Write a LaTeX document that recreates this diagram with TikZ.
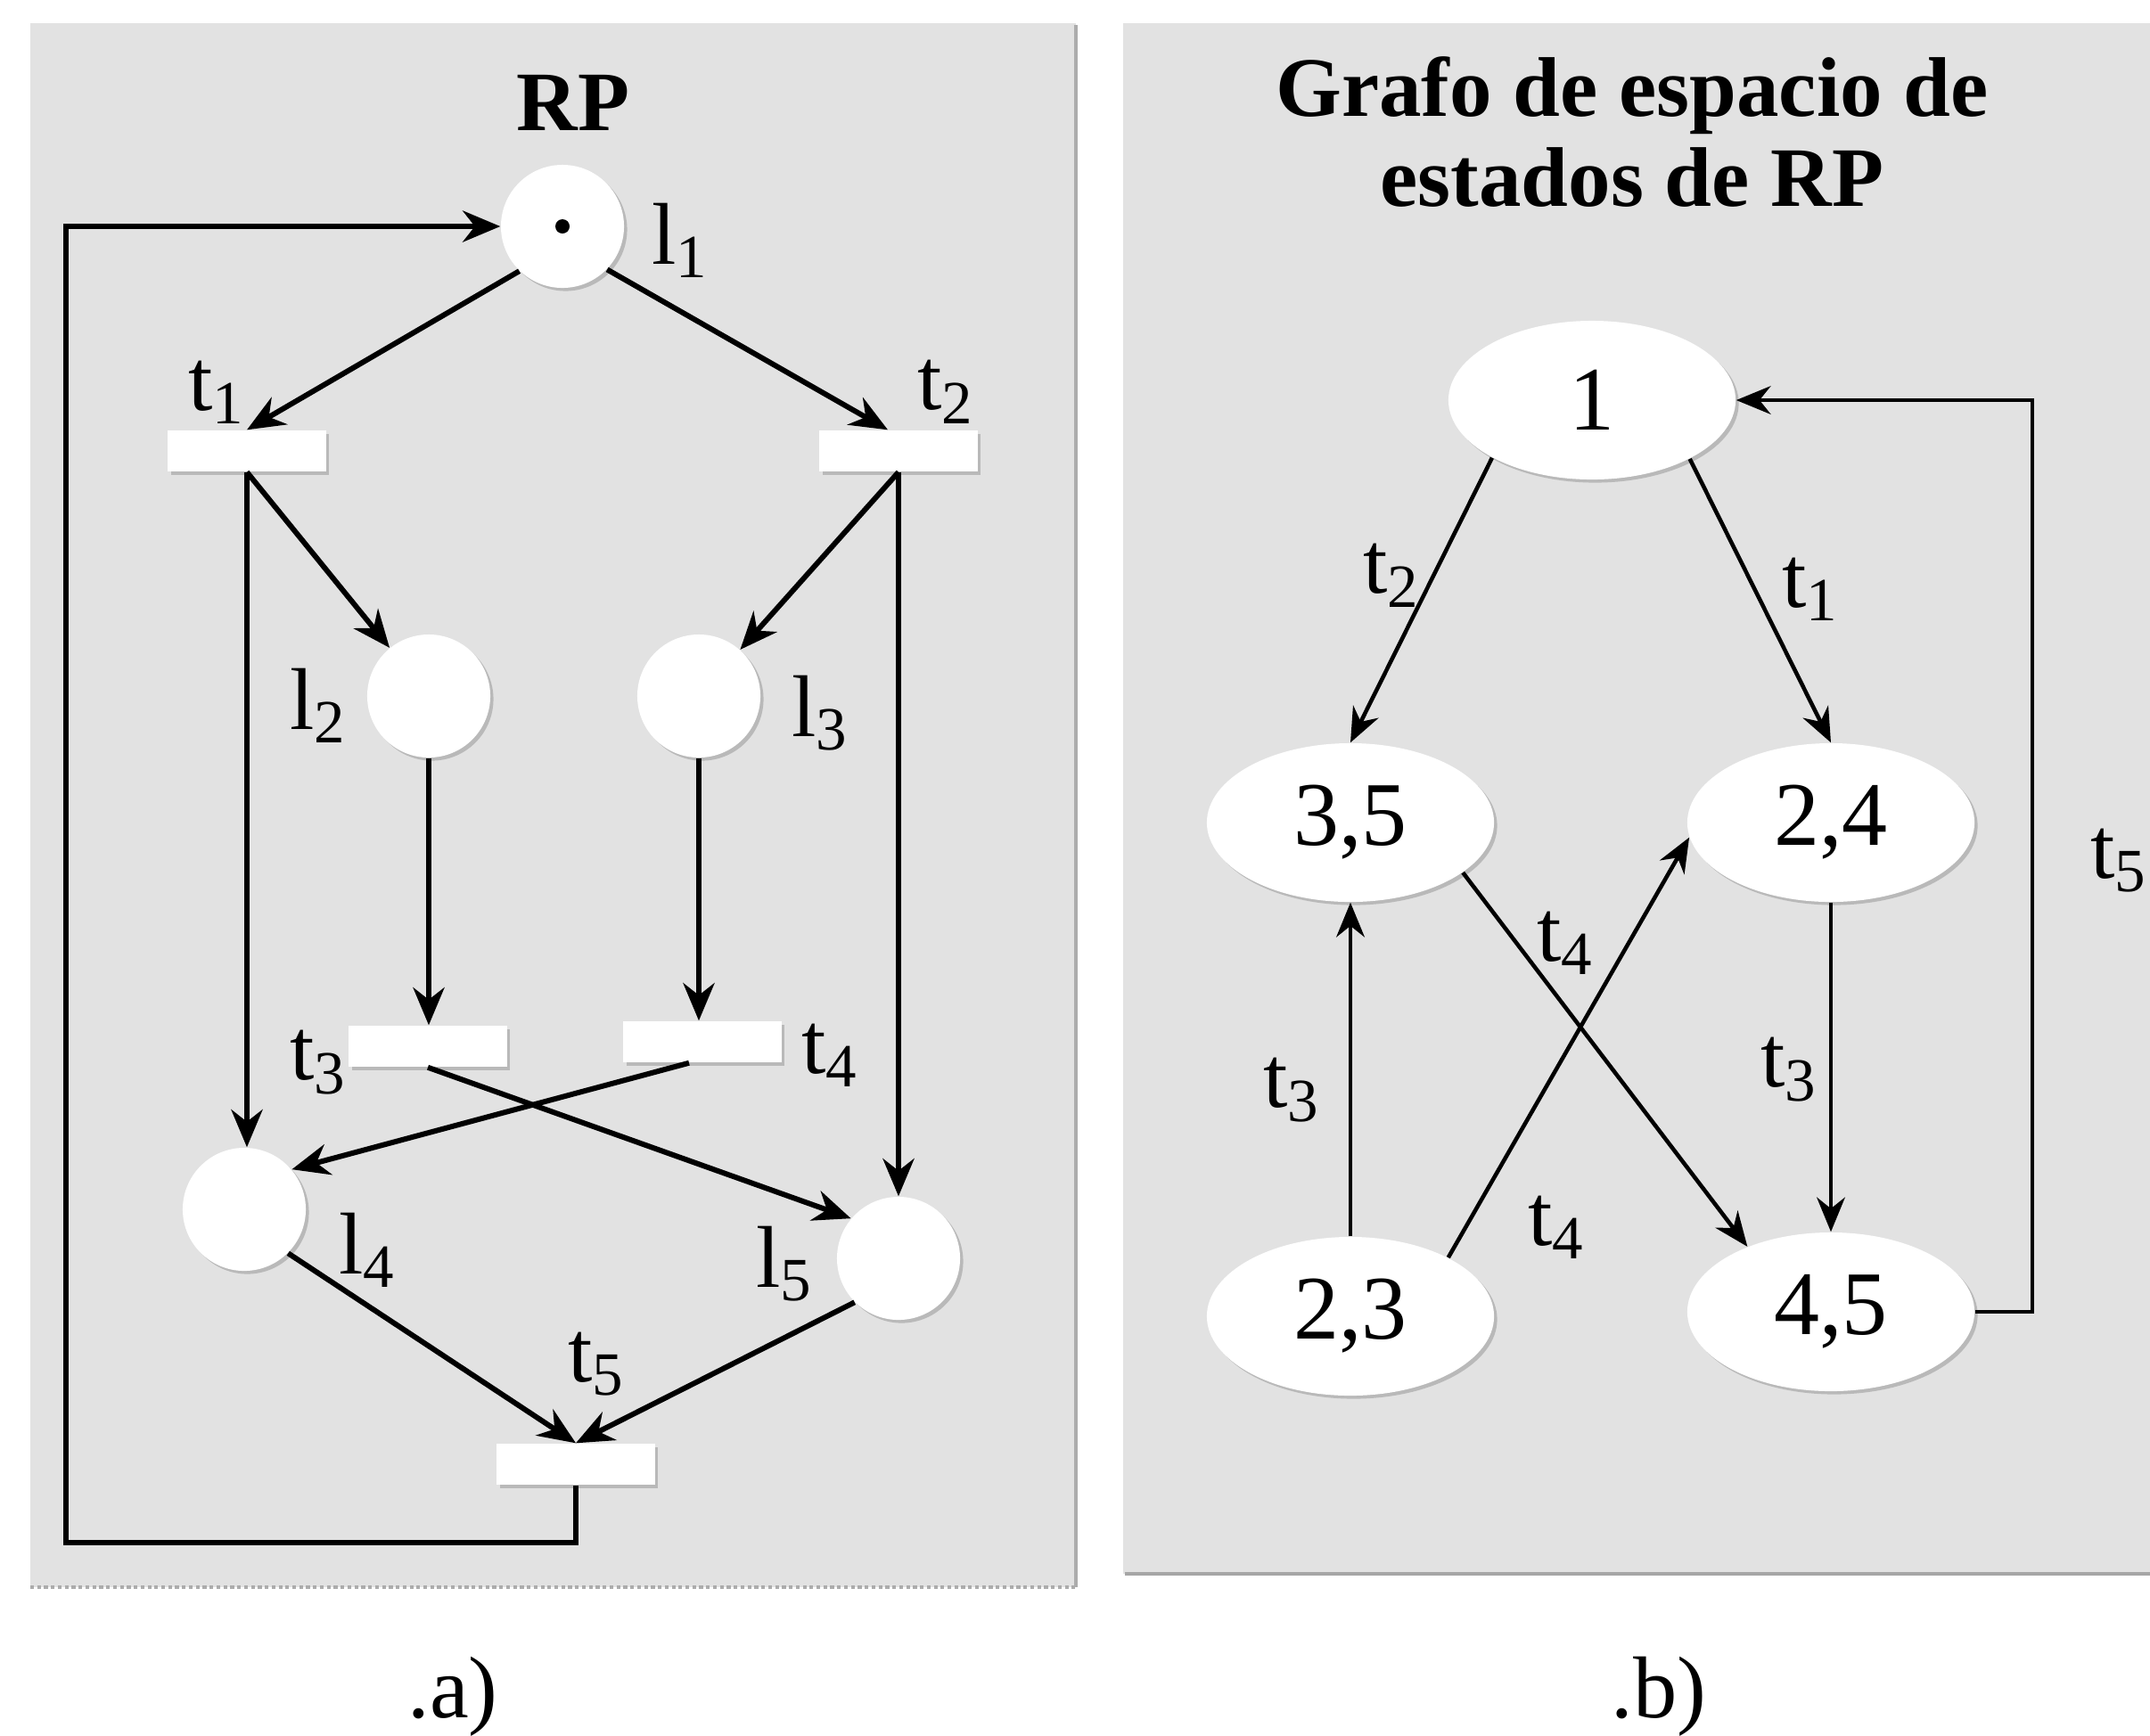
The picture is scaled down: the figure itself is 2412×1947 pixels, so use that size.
\documentclass[tikz,border=0pt]{standalone}
\usepackage{fontspec}
\setmainfont{Liberation Serif}
\usetikzlibrary{arrows.meta,shapes.geometric,shadows}
\definecolor{panel}{RGB}{226,226,226}
\begin{document}
\begin{tikzpicture}[x=0.01cm,y=-0.01cm,
  lab/.style={font=\fontsize{28}{30}\selectfont, inner sep=0pt},
  shd/.style={drop shadow={shadow xshift=1pt, shadow yshift=-1pt, fill=gray!80, opacity=0.55}},
  place/.style={circle, fill=white, minimum size=1.38cm, inner sep=0pt, shd},
  trans/.style={rectangle, fill=white, minimum width=1.77cm, minimum height=0.46cm, inner sep=0pt, shd},
  state/.style={ellipse, fill=white, minimum width=3.22cm, minimum height=1.78cm, inner sep=0pt, font=\fontsize{29}{30}\selectfont, shd},
  arr/.style={-{Stealth[length=12pt,width=10pt]}, line width=1.7pt},
  arrb/.style={-{Stealth[length=11pt,width=9pt]}, line width=1.3pt},
  title/.style={font=\bfseries\fontsize{27}{28.5}\selectfont, align=center, inner sep=0pt},
  capt/.style={font=\fontsize{28}{30}\selectfont, inner sep=0pt}
]
\useasboundingbox[fill=white] (0,0) rectangle (2412,1947);
% panels
\fill[panel] (34,26) rectangle (1207,1781);
\fill[panel] (1260,26) rectangle (2412,1766);
\draw[gray!65, line width=1pt] (1207,28) -- (1207,1781);
\draw[gray!65, line width=1.2pt, densely dotted] (34,1781) -- (1207,1781);
\draw[gray!70, line width=1.3pt] (1262,1766) -- (2412,1766);

% ---------- a) Petri net ----------
\node[title] (rp) at (643,115) {RP};
\node[place] (l1) at (631,254) {};
\fill (l1.center) circle[radius=0.08cm];
\node[place] (l2) at (481,781) {};
\node[place] (l3) at (784,781) {};
\node[place] (l4) at (274,1357) {};
\node[place] (l5) at (1008,1412) {};
\node[trans] (t1) at (277,506) {};
\node[trans] (t2) at (1008,506) {};
\node[trans] (t3) at (480,1174) {};
\node[trans] (t4) at (788,1169) {};
\node[trans] (t5) at (646,1643) {};

\node[lab] (ll1) at (763,270) {l\textsubscript{1}};
\node[lab] (lt1) at (243,440) {t\textsubscript{1}};
\node[lab] (lt2) at (1061,440) {t\textsubscript{2}};
\node[lab] (ll2) at (357,792) {l\textsubscript{2}};
\node[lab] (ll3) at (920,800) {l\textsubscript{3}};
\node[lab] (lt3) at (357,1192) {t\textsubscript{3}};
\node[lab] (lt4) at (931,1184) {t\textsubscript{4}};
\node[lab] (ll4) at (412,1403) {l\textsubscript{4}};
\node[lab] (ll5) at (880,1418) {l\textsubscript{5}};
\node[lab] (lt5) at (669,1531) {t\textsubscript{5}};

\draw[arr] (l1.226) -- (t1.north);
\draw[arr] (l1.-44) -- ([xshift=-0.12cm]t2.north);
\draw[arr] (t1.south) -- (l2);
\draw[arr] (t1.south) -- (t1.south |- l4.north);
\draw[arr] (t2.south) -- (l3);
\draw[arr] (t2.south) -- (l5.north);
\draw[arr] (l2.south) -- (l2.south |- t3.north);
\draw[arr] (l3.south) -- (l3.south |- t4.north);
\draw[arr] (t3.south) -- (l5.140);
\draw[arr] ([xshift=-0.15cm]t4.south) -- (l4.40);
\draw[arr] (l4.-45) -- (t5.north);
\draw[arr] (l5.225) -- (t5.north);
\coordinate (ca) at (74,1731);
\draw[arr] (t5.south) |- (ca) |- (l1.west);

\node[capt] (capa) at (508,1904) {.a)};

% ---------- b) state graph ----------
\node[title] (gt) at (1831,148) {Grafo de espacio de\\estados de RP};
\node[state] (n1) at (1786,449) {1};
\node[state] (n35) at (1515,923) {3,5};
\node[state] (n24) at (2054,923) {2,4};
\node[state] (n23) at (1515,1477) {2,3};
\node[state] (n45) at (2054,1472) {4,5};

\draw[arrb] (n1.210) -- (n35.north);
\draw[arrb] (n1.-31) -- (n24.north);
\draw[arrb] (n24.south) -- (n45.north);
\draw[arrb] (n23.north) -- (n35.south);
\draw[arrb] (n35.-24) -- (n45.142);
\draw[arrb] (n23.31) -- (n24.186);
\coordinate (cb) at (2280,449);
\draw[arrb] (n45.east) -| (cb) -- (n1.east);

\node[lab] (rt2) at (1561,646) {t\textsubscript{2}};
\node[lab] (rt1) at (2031,661) {t\textsubscript{1}};
\node[lab] (rt3r) at (2007,1200) {t\textsubscript{3}};
\node[lab] (rt3l) at (1449,1223) {t\textsubscript{3}};
\node[lab] (rt4u) at (1756,1058) {t\textsubscript{4}};
\node[lab] (rt4l) at (1746,1377) {t\textsubscript{4}};
\node[lab] (rt5) at (2377,966) {t\textsubscript{5}};

\node[capt] (capb) at (1861,1904) {.b)};
\end{tikzpicture}
\end{document}
